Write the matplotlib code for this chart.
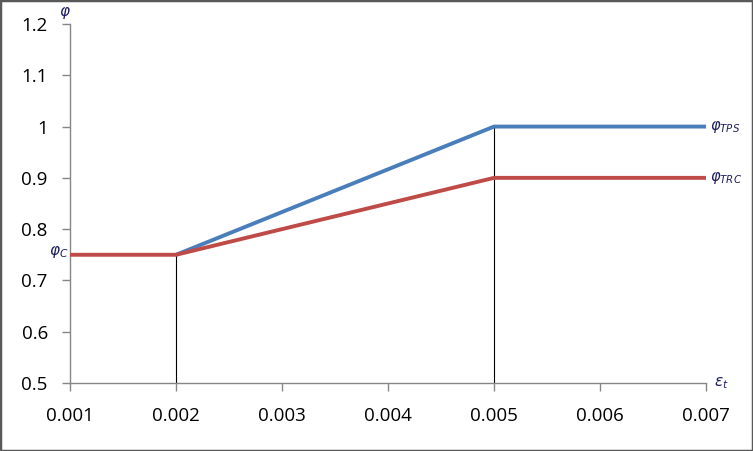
import matplotlib
matplotlib.use("Agg")
import matplotlib.pyplot as plt
from matplotlib.patches import Rectangle

strain_tps = [0.002, 0.005, 0.007]
phi_tps = [0.75, 1.0, 1.0]
strain_trc = [0.001, 0.002, 0.005, 0.007]
phi_trc = [0.75, 0.75, 0.9, 0.9]
guide_x = [0.002, 0.005]
guide_top = [0.75, 1.0]
xticks = [0.001, 0.002, 0.003, 0.004, 0.005, 0.006, 0.007]
yticks = [0.5, 0.6, 0.7, 0.8, 0.9, 1.0, 1.1, 1.2]
ytick_labels = ["0.5", "0.6", "0.7", "0.8", "0.9", "1", "1.1", "1.2"]

fig = plt.figure(figsize=(7.53, 4.51), dpi=100)
W, H = 753, 451
ax = fig.add_axes([70 / W, (H - 383) / H, (706 - 70) / W, (383 - 24) / H])

for x, t in zip(guide_x, guide_top):
    ax.plot([x, x], [0.5, t], color="black", lw=0.8, zorder=2)

ax.plot(strain_tps, phi_tps, color="#4A7EBB", lw=2.8, zorder=3, solid_capstyle="butt")
ax.plot(strain_trc, phi_trc, color="#BE4B48", lw=2.8, zorder=4, solid_capstyle="butt")

ax.set_xlim(0.001, 0.007)
ax.set_ylim(0.5, 1.2)
ax.set_xticks(xticks)
ax.set_xticklabels([f"{v:.3f}" for v in xticks])
ax.set_yticks(yticks)
ax.set_yticklabels(ytick_labels)
for s in ["top", "right"]:
    ax.spines[s].set_visible(False)
for s in ["left", "bottom"]:
    ax.spines[s].set_color("#868686")
    ax.spines[s].set_linewidth(1.0)
ax.tick_params(axis="both", direction="out", length=6, width=1.0, color="#868686",
               labelsize=13.5, labelcolor="black")
ax.tick_params(axis="y", pad=10)
ax.tick_params(axis="x", pad=11)
for lab in ax.get_xticklabels() + ax.get_yticklabels():
    lab.set_family("Open Sans")

lab_color = "#1F1F5F"
ax.annotate(r"$\varphi$", xy=(0.001, 1.2), xytext=(-4, 8), textcoords="offset points",
            ha="center", va="center", fontsize=11, color=lab_color)
ax.annotate(r"$\varepsilon_t$", xy=(0.007, 0.5), xytext=(11, 0), textcoords="offset points",
            ha="center", va="center", fontsize=11, color=lab_color)
ax.annotate(r"$\varphi_C$", xy=(0.001, 0.75), xytext=(-1, 2), textcoords="offset points",
            ha="right", va="center", fontsize=11, color=lab_color)
ax.annotate(r"$\varphi_{TPS}$", xy=(0.007, 1.0), xytext=(3, 0), textcoords="offset points",
            ha="left", va="center", fontsize=10.5, color=lab_color)
ax.annotate(r"$\varphi_{TRC}$", xy=(0.007, 0.9), xytext=(3, 0), textcoords="offset points",
            ha="left", va="center", fontsize=10.5, color=lab_color)

fig.patches.append(Rectangle((0, 0), 1, 1, transform=fig.transFigure, fill=False,
                             edgecolor="#595959", linewidth=2.5))

fig.savefig("out.png", dpi=100)
